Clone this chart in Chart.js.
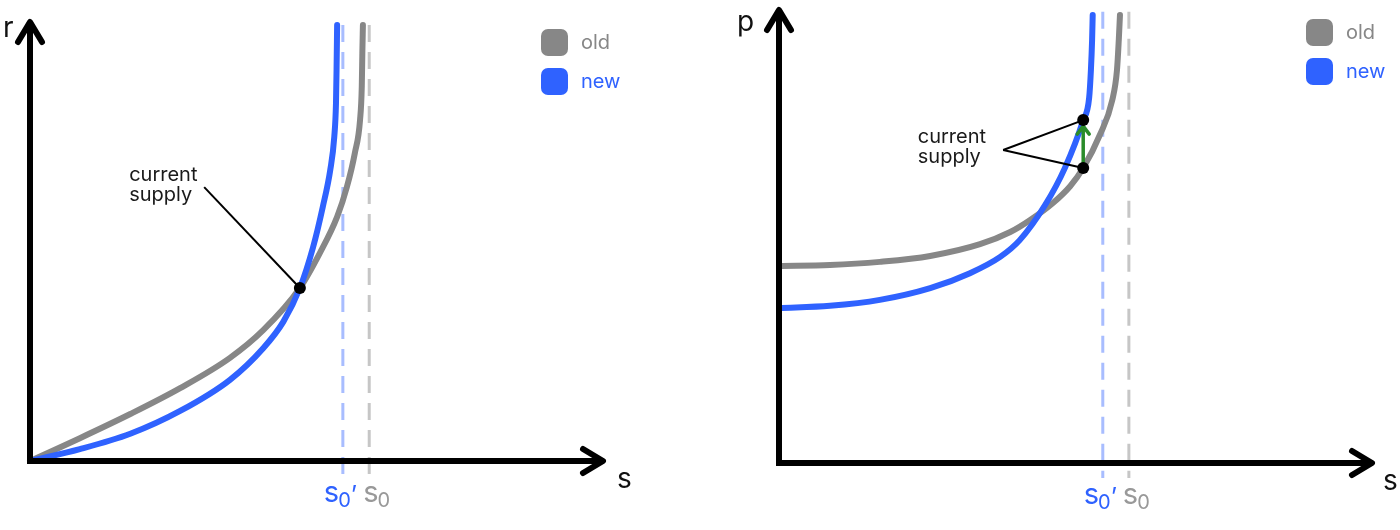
<!DOCTYPE html>
<html><head><meta charset="utf-8">
<script src="https://cdn.jsdelivr.net/npm/chart.js@4.4.0/dist/chart.umd.min.js"></script>
<style>
html,body{margin:0;padding:0;background:#fff;width:1400px;height:530px;overflow:hidden}
canvas{position:absolute;top:0}
#c1{left:0}#c2{left:700px}
</style></head><body>
<canvas id="c1" width="700" height="530"></canvas>
<canvas id="c2" width="700" height="530"></canvas>
<script>
// ---------- data ----------
const seriesNames = ['old', 'new'];
const annotationText = ['current', 'supply'];
const axisNamesLeft = ['s', 'r'];
const axisNamesRight = ['s', 'p'];
const capLabels = ['s', '0', '\u2019'];

// left panel: r vs s
const leftOldS = [0, 0.87, 1.75, 2.62, 3.49, 4.07, 4.71, 5.06, 5.36, 5.53, 5.67, 5.76, 5.79, 5.80, 5.81];
const leftOldR = [0, 0.52, 1.07, 1.66, 2.35, 2.98, 3.94, 4.74, 5.56, 6.24, 7.02, 7.77, 8.52, 9.29, 9.93];
const leftNewS = [0, 0.87, 1.75, 2.62, 3.49, 4.07, 4.42, 4.71, 4.94, 5.11, 5.24, 5.31, 5.34, 5.35, 5.36];
const leftNewR = [0, 0.27, 0.62, 1.14, 1.85, 2.57, 3.17, 3.94, 4.87, 5.79, 6.63, 7.38, 8.15, 8.91, 9.93];
const leftS0Old = 5.92, leftS0New = 5.46, leftDashTop = 9.93, leftDashBottom = -0.3;
const leftCurrentS = [4.71], leftCurrentR = [3.94];

// right panel: p vs s
const rightOldS = [0, 0.86, 1.70, 2.55, 3.39, 3.90, 4.23, 4.62, 4.91, 5.13, 5.41, 5.62, 5.70, 5.73, 5.75];
const rightOldP = [4.35, 4.37, 4.44, 4.57, 4.83, 5.10, 5.36, 5.74, 6.11, 6.51, 7.24, 8.01, 8.68, 9.34, 9.89];
const rightNewS = [0, 0.86, 1.70, 2.55, 3.22, 3.73, 4.06, 4.49, 4.82, 5.13, 5.23, 5.26, 5.28, 5.29];
const rightNewP = [3.42, 3.47, 3.60, 3.86, 4.19, 4.55, 4.92, 5.70, 6.51, 7.57, 8.06, 8.68, 9.34, 9.89];
const rightS0Old = 5.90, rightS0New = 5.46, rightDashTop = 9.96, rightDashBottom = -0.33;
const rightCurrentS = [5.13, 5.13], rightCurrentP = [6.51, 7.57];

// ---------- styles ----------
const GRAY = '#878787', BLUE = '#2f62ff', DASH_BLUE = 'rgba(47,98,255,0.42)', DASH_GRAY = '#c6c6c6';
const FONT = 'Inter, "Noto Sans", sans-serif';

const zip = (xs, ys) => xs.map((x, i) => ({x, y: ys[i]}));

function makeChart(id, cfg) {
  const deco = {
    id: 'deco',
    afterDatasetsDraw(chart) {
      const ctx = chart.ctx, a = chart.chartArea, xs = chart.scales.x, ys = chart.scales.y;
      const X = v => xs.getPixelForValue(v), Y = v => ys.getPixelForValue(v);
      ctx.save();
      // axes with arrows
      ctx.strokeStyle = '#000'; ctx.lineWidth = 6;
      ctx.lineJoin = 'miter'; ctx.lineCap = 'square';
      ctx.beginPath(); ctx.moveTo(a.left, a.top + 4); ctx.lineTo(a.left, a.bottom); ctx.lineTo(a.right - 4, a.bottom); ctx.stroke();
      ctx.lineCap = 'round'; ctx.lineJoin = 'round';
      ctx.beginPath();
      ctx.moveTo(a.left - 12, a.top + 20); ctx.lineTo(a.left, a.top); ctx.lineTo(a.left + 12, a.top + 20);
      ctx.moveTo(a.right - 20, a.bottom - 12); ctx.lineTo(a.right, a.bottom); ctx.lineTo(a.right - 20, a.bottom + 12);
      ctx.stroke();
      // axis names
      ctx.fillStyle = '#111'; ctx.font = '28px ' + FONT; ctx.textBaseline = 'alphabetic'; ctx.textAlign = 'left';
      ctx.fillText(cfg.axisNames[1], a.left + cfg.yNameDx, a.top + cfg.yNameDy);
      ctx.fillText(cfg.axisNames[0], a.right + cfg.xNameDx, a.bottom + 27);
      // s0 labels
      const cap = (x, color, prime) => {
        ctx.fillStyle = color;
        ctx.font = '29px ' + FONT; ctx.fillText(capLabels[0], x, a.bottom + 41);
        const w = ctx.measureText(capLabels[0]).width;
        ctx.font = '20px ' + FONT; ctx.fillText(capLabels[1], x + w - 1, a.bottom + 46);
        const w2 = ctx.measureText(capLabels[1]).width;
        if (prime) { ctx.font = '24px ' + FONT; ctx.fillText(capLabels[2], x + w + w2 - 1, a.bottom + 42); }
      };
      cap(X(cfg.s0New) - 19, BLUE, true);
      cap(X(cfg.s0Old) - 6, '#999', false);
      // legend
      const items = [[seriesNames[0], GRAY], [seriesNames[1], BLUE]];
      items.forEach((it, i) => {
        const y0 = cfg.legendY + i * 39;
        ctx.fillStyle = it[1];
        ctx.beginPath(); ctx.roundRect(cfg.legendX, y0, 27, 27, 7); ctx.fill();
        ctx.font = '20px ' + FONT; ctx.textBaseline = 'middle';
        ctx.fillText(it[0], cfg.legendX + 40, y0 + 14);
      });
      ctx.textBaseline = 'alphabetic';
      // annotation text + leaders
      ctx.fillStyle = '#1a1a1a'; ctx.font = '20px ' + FONT; ctx.textBaseline = 'top';
      annotationText.forEach((t, i) => ctx.fillText(t, X(cfg.textAt[0]), Y(cfg.textAt[1]) + i * 20));
      ctx.strokeStyle = '#000'; ctx.lineWidth = 2; ctx.lineCap = 'butt';
      cfg.targets.forEach(p => {
        ctx.beginPath(); ctx.moveTo(X(cfg.leaderFrom[0]), Y(cfg.leaderFrom[1])); ctx.lineTo(X(p.x), Y(p.y)); ctx.stroke();
      });
      // green arrow
      if (cfg.arrow) {
        const x = X(cfg.arrow[0]), yA = Y(cfg.arrow[1]), yB = Y(cfg.arrow[2]) + 6;
        ctx.strokeStyle = '#2a8c2a'; ctx.lineWidth = 3.5; ctx.lineCap = 'round'; ctx.lineJoin = 'round';
        ctx.beginPath(); ctx.moveTo(x, yA); ctx.lineTo(x, yB);
        ctx.moveTo(x - 6, yB + 8); ctx.lineTo(x, yB); ctx.lineTo(x + 6, yB + 8); ctx.stroke();
      }
      // dots on top
      ctx.fillStyle = '#000';
      cfg.targets.forEach(p => { ctx.beginPath(); ctx.arc(X(p.x), Y(p.y), 6, 0, Math.PI * 2); ctx.fill(); });
      ctx.restore();
    }
  };
  const curve = (label, data, color, order) => ({
    label, data, borderColor: color, borderWidth: 6, pointRadius: 0,
    cubicInterpolationMode: 'monotone',
    fill: false, clip: false, order, borderCapStyle: 'round'
  });
  const dashed = (x, top, bottom, color) => ({
    data: [{x, y: top}, {x, y: bottom}], borderColor: color, borderWidth: 3, borderDash: [17, 10],
    pointRadius: 0, fill: false, clip: false, order: 5
  });
  return new Chart(document.getElementById(id), {
    type: 'line',
    data: {
      datasets: [
        dashed(cfg.s0New, cfg.dashTop, cfg.dashBottom, DASH_BLUE),
        dashed(cfg.s0Old, cfg.dashTop, cfg.dashBottom, DASH_GRAY),
        curve(seriesNames[0], cfg.old, GRAY, 3),
        curve(seriesNames[1], cfg.neu, BLUE, 2)
      ]
    },
    options: {
      responsive: false, animation: false, events: [], devicePixelRatio: 1,
      layout: {padding: cfg.pad},
      scales: {
        x: {type: 'linear', min: 0, max: 10, display: false},
        y: {type: 'linear', min: 0, max: 10, display: false}
      },
      plugins: {legend: {display: false}, tooltip: {enabled: false}}
    },
    plugins: [deco]
  });
}

makeChart('c1', {
  pad: {left: 30, right: 97, top: 22, bottom: 69},
  old: zip(leftOldS, leftOldR), neu: zip(leftNewS, leftNewR),
  s0Old: leftS0Old, s0New: leftS0New, dashTop: leftDashTop, dashBottom: leftDashBottom,
  targets: zip(leftCurrentS, leftCurrentR),
  textAt: [1.73, 6.74], leaderFrom: [3.04, 6.24],
  axisNames: axisNamesLeft, yNameDx: -27, yNameDy: 15, xNameDx: 14,
  legendX: 541, legendY: 29, arrow: null
});
makeChart('c2', {
  pad: {left: 79, right: 28, top: 10, bottom: 67},
  old: zip(rightOldS, rightOldP), neu: zip(rightNewS, rightNewP),
  s0Old: rightS0Old, s0New: rightS0New, dashTop: rightDashTop, dashBottom: rightDashBottom,
  targets: zip(rightCurrentS, rightCurrentP),
  textAt: [2.34, 7.42], leaderFrom: [3.78, 6.91],
  axisNames: axisNamesRight, yNameDx: -42, yNameDy: 21, xNameDx: 11,
  legendX: 606, legendY: 19, arrow: [rightCurrentS[0], rightCurrentP[0], rightCurrentP[1]]
});
</script>
</body></html>
